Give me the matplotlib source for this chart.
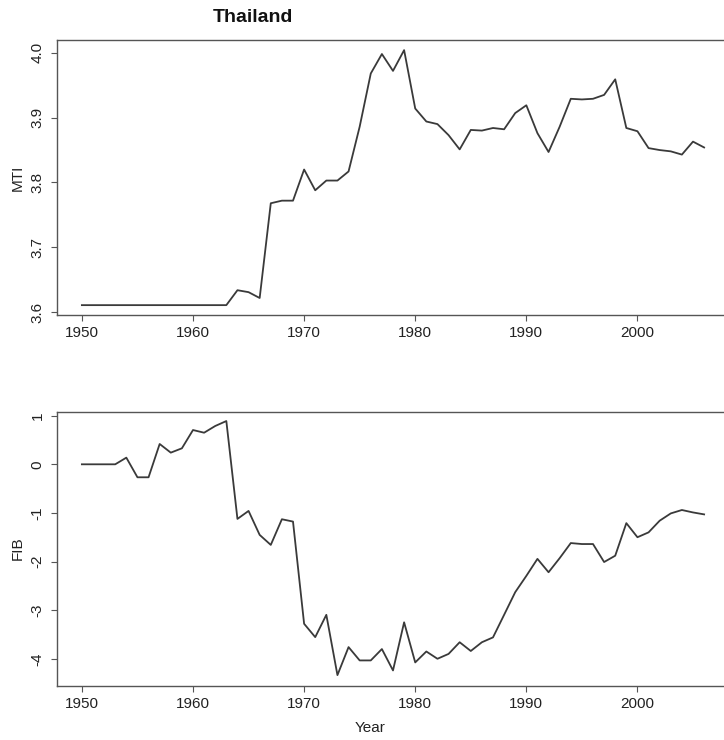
import matplotlib
matplotlib.use("Agg")
import matplotlib.pyplot as plt

years = list(range(1950, 2007))

mti = [3.611] * 14 + [
    3.634, 3.631, 3.622, 3.768, 3.772, 3.772, 3.820, 3.788, 3.803, 3.803,
    3.817, 3.886, 3.968, 3.998, 3.972, 4.004, 3.914, 3.894, 3.890, 3.873,
    3.851, 3.881, 3.880, 3.884, 3.882, 3.907, 3.919, 3.876, 3.847, 3.886,
    3.929, 3.928, 3.929, 3.935, 3.959, 3.884, 3.879, 3.853, 3.850, 3.848,
    3.843, 3.863, 3.854]

fib = [0.0, 0.0, 0.0, 0.0, 0.137, -0.267, -0.267, 0.418, 0.24, 0.329,
       0.705, 0.65, 0.788, 0.89, -1.123, -0.959, -1.452, -1.658, -1.13, -1.178,
       -3.28, -3.555, -3.096, -4.336, -3.76, -4.034, -4.034, -3.80, -4.24, -3.25,
       -4.075, -3.85, -4.0, -3.90, -3.66, -3.84, -3.66, -3.56, -3.096, -2.63,
       -2.295, -1.945, -2.22, -1.93, -1.62, -1.64, -1.64, -2.01, -1.88, -1.21,
       -1.50, -1.40, -1.16, -1.01, -0.94, -0.99, -1.03]

xticks = [1950, 1960, 1970, 1980, 1990, 2000]
mti_ticks = [3.6, 3.7, 3.8, 3.9, 4.0]
mti_labels = ["3.6", "3.7", "3.8", "3.9", "4.0"]
fib_ticks = [1, 0, -1, -2, -3, -4]
fib_labels = ["1", "0", "-1", "-2", "-3", "-4"]

plt.rcParams['font.family'] = ['Liberation Sans', 'DejaVu Sans']

W, H = 724, 740
fig = plt.figure(figsize=(W / 100, H / 100), dpi=100)
fig.patch.set_facecolor("white")

def px_axes(left, top, right, bottom):
    return fig.add_axes([left / W, 1 - bottom / H, (right - left) / W, (bottom - top) / H])

line_col = "#3a3a3a"
spine_col = "#555555"
txt_col = "#222222"

def style(ax, yt, ytl):
    for s in ax.spines.values():
        s.set_color(spine_col)
        s.set_linewidth(1.0)
    ax.set_xticks(xticks)
    ax.set_xticklabels([str(v) for v in xticks])
    ax.set_yticks(yt)
    ax.set_yticklabels(ytl, rotation=90, va="center")
    ax.tick_params(direction="out", length=4, width=0.8, color=spine_col,
                   labelsize=11, labelcolor=txt_col, pad=4)
    ax.tick_params(axis="y", pad=5)
    ax.set_xlim(1947.76, 2008.24)

ax1 = px_axes(57, 40, 729, 315)
ax1.plot(years, mti, color=line_col, lw=1.3)
style(ax1, mti_ticks, mti_labels)
ax1.set_ylim(3.5958, 4.0196)

ax2 = px_axes(57, 411.7, 729, 686)
ax2.plot(years, fib, color=line_col, lw=1.3)
style(ax2, fib_ticks, fib_labels)
ax2.set_ylim(-4.56, 1.082)

fig.text(253 / W, 1 - 18 / H, "Thailand", ha="center", va="center",
         fontsize=14, fontweight="bold", color="#111111")
fig.text(18 / W, 1 - 178 / H, "MTI", ha="center", va="center", rotation=90,
         fontsize=11, color=txt_col)
fig.text(18 / W, 1 - 548 / H, "FIB", ha="center", va="center", rotation=90,
         fontsize=11, color=txt_col)
fig.text(370 / W, 1 - 728 / H, "Year", ha="center", va="center",
         fontsize=11, color=txt_col)

fig.savefig("out.png", dpi=100)
